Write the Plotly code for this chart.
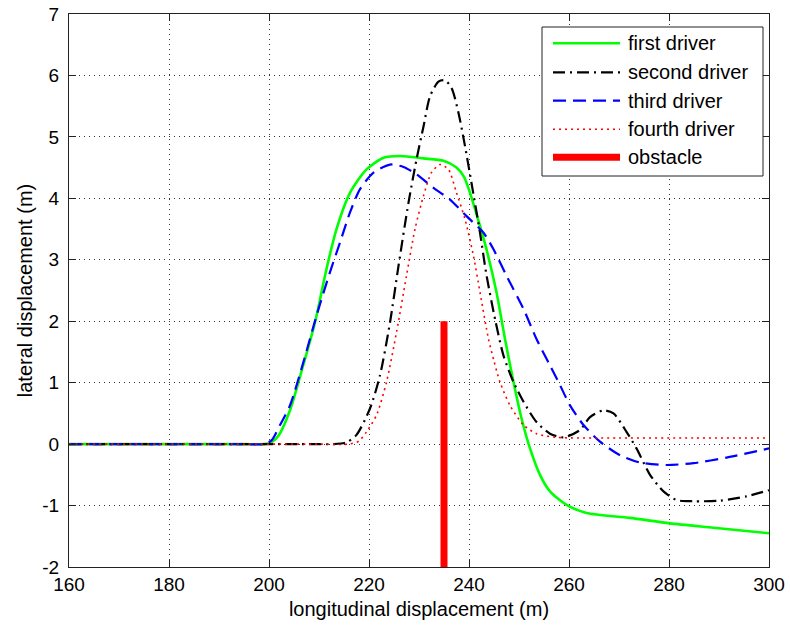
import plotly.graph_objects as go

# ---------------- data ----------------
first_x = [160, 180, 195, 199, 200.5, 202, 204.2, 206.9, 209.2, 211.5, 213.5, 216.2, 219.5, 222.9, 226.2, 230.9,
           234.9, 237.5, 239.0, 240.2, 242.2, 243.5, 245.5, 247.2, 248.9, 250.5, 252.2, 254.2,
           256.2, 259.5, 263.5, 272.2, 280.2, 288.9, 300]
first_y = [0, 0, 0, 0, 0.03, 0.15, 0.55, 1.30, 1.98, 2.85, 3.50, 4.09, 4.47, 4.66, 4.69, 4.65,
           4.61, 4.50, 4.35, 4.09, 3.55, 3.17, 2.47, 1.71, 1.01, 0.42, -0.07, -0.50,
           -0.77, -0.99, -1.12, -1.20, -1.29, -1.36, -1.45]

second_x = [160, 190, 208, 213, 215.5, 217.5, 220.2, 222.2, 224.2, 225.9, 227.9, 229.5, 230.9, 232.2, 233.9, 235.2,
            236.5, 237.9, 239.2, 240.5, 242.2, 243.5, 245.3, 246.9, 248.9, 250.9, 253.5, 256.2,
            258.9, 262.2, 264.2, 266.9, 268.9, 271.5, 273.5, 276.2, 278.9, 281.5, 284.9, 290.2,
            295.5, 300]
second_y = [0, 0, 0, 0, 0.03, 0.15, 0.58, 1.12, 1.98, 2.90, 3.93, 4.63, 5.17, 5.66, 5.90, 5.92,
            5.80, 5.39, 4.85, 4.25, 3.44, 2.75, 2.00, 1.44, 1.01, 0.69, 0.36, 0.17,
            0.11, 0.23, 0.44, 0.55, 0.50, 0.20, -0.07, -0.50, -0.77, -0.91, -0.93, -0.92,
            -0.85, -0.75]

third_x = [160, 180, 195, 199, 200.5, 202.2, 204.2, 206.9, 209.5, 212.2, 214.2, 216.2, 218.2, 220.9, 224.2, 226.9,
           229.5, 232.9, 236.2, 239.5, 242.9, 244.9, 247.5, 250.9, 253.5, 256.2, 258.2, 260.2,
           262.9, 266.2, 270.2, 274.2, 279.5, 284.9, 291.5, 300]
third_y = [0, 0, 0, 0, 0.06, 0.31, 0.63, 1.34, 2.09, 2.80, 3.28, 3.77, 4.15, 4.42, 4.55, 4.51,
           4.39, 4.17, 3.98, 3.71, 3.44, 3.17, 2.74, 2.20, 1.71, 1.28, 0.96, 0.63,
           0.31, 0.04, -0.18, -0.30, -0.34, -0.31, -0.22, -0.07]

fourth_x = [160, 190, 210, 216, 218, 219.5, 221.5, 223.5, 225.5, 227.5, 229.2, 230.9, 232.5, 234.2, 235.9, 237.5,
            239.2, 240.9, 242.2, 243.9, 245.0, 246.2, 248.2, 250.9, 253.5, 257.5, 270, 285, 300]
fourth_y = [0, 0, 0, 0, 0.05, 0.20, 0.47, 1.01, 1.82, 2.74, 3.50, 4.04, 4.42, 4.55, 4.47, 4.09,
            3.66, 3.06, 2.47, 1.71, 1.35, 1.01, 0.63, 0.31, 0.17, 0.11, 0.10, 0.10, 0.10]

obstacle_x = [235, 235]
obstacle_y = [-2, 2]

series_names = ["first driver", "second driver", "third driver", "fourth driver", "obstacle"]
x_ticks = [160, 180, 200, 220, 240, 260, 280, 300]
y_ticks = [-2, -1, 0, 1, 2, 3, 4, 5, 6, 7]

# ---------------- styles ----------------
FONT = "Liberation Sans, Arial, sans-serif"
styles = [
    dict(color="#00ff00", width=2.6, dash="solid"),
    dict(color="#000000", width=2.2, dash="12px,5px,2px,5px"),
    dict(color="#0000ff", width=2.2, dash="13px,7px"),
    dict(color="#ff0000", width=1.6, dash="2px,4px"),
    dict(color="#ff0000", width=7, dash="solid"),
]

fig = go.Figure()
data = [(first_x, first_y), (second_x, second_y), (third_x, third_y), (fourth_x, fourth_y),
        (obstacle_x, obstacle_y)]
for (xs, ys), name, st in zip(data, series_names, styles):
    fig.add_trace(go.Scatter(
        x=xs, y=ys, name=name, mode="lines",
        line=dict(color=st["color"], width=st["width"], dash=st["dash"],
                  shape="spline" if name != "obstacle" else "linear", smoothing=0.7),
        showlegend=False, hoverinfo="skip"))

axis_common = dict(
    showline=True, linecolor="#222222", linewidth=1, mirror="ticks",
    ticks="inside", ticklen=7, tickcolor="#222222", tickwidth=1,
    showgrid=True, gridcolor="#333333", gridwidth=1, griddash="1px,4px",
    zeroline=False, automargin=False,
    tickfont=dict(family=FONT, size=19, color="#000000"),
)

fig.update_xaxes(range=[160, 300], tickvals=x_ticks, ticktext=[str(v) for v in x_ticks],
                 title=dict(text="longitudinal displacement (m)",
                            font=dict(family=FONT, size=20, color="#000000"), standoff=8),
                 ticklabelstandoff=0, **axis_common)
fig.update_yaxes(range=[-2, 7], tickvals=y_ticks, ticktext=[str(v) for v in y_ticks],
                 title=dict(text="lateral displacement (m)",
                            font=dict(family=FONT, size=20, color="#000000"), standoff=4),
                 ticklabelstandoff=5, **axis_common)

# ---------------- manual legend (MATLAB style box) ----------------
L, T, W, H = 69, 14, 700, 553  # plot area in pixels


def px(xp):
    return (xp - L) / W


def py(yp):
    return (T + H - yp) / H


shapes = [dict(type="rect", xref="paper", yref="paper",
               x0=px(542), x1=px(763), y0=py(176), y1=py(27),
               line=dict(color="#222222", width=1), fillcolor="white", layer="above")]
annotations = []
row_y = [43.3, 72.3, 100.7, 129.3, 157.3]
for name, st, ry in zip(series_names, styles, row_y):
    shapes.append(dict(type="line", xref="paper", yref="paper",
                       x0=px(553), x1=px(620), y0=py(ry), y1=py(ry), layer="above",
                       line=dict(color=st["color"], width=st["width"], dash=st["dash"])))
    annotations.append(dict(xref="paper", yref="paper", x=px(626), y=py(ry),
                            xanchor="left", yanchor="middle", showarrow=False, text=name,
                            font=dict(family=FONT, size=20, color="#000000")))

fig.update_layout(
    width=790, height=630,
    margin=dict(l=69, r=21, t=14, b=63),
    paper_bgcolor="white", plot_bgcolor="white",
    shapes=shapes, annotations=annotations,
    showlegend=False,
)

fig.write_html("out.html")
